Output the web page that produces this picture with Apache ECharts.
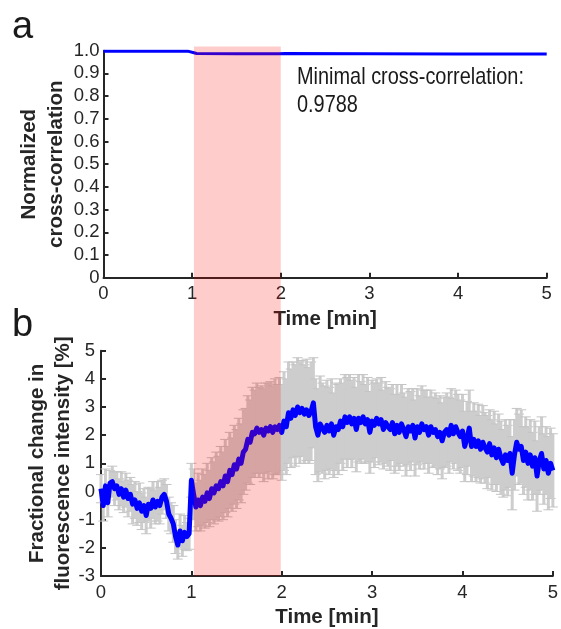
<!DOCTYPE html>
<html>
<head>
<meta charset="utf-8">
<script src="https://cdn.jsdelivr.net/npm/echarts@6/dist/echarts.min.js"></script>
<style>
html,body{margin:0;padding:0;background:#fff;}
#chart{width:561px;height:629px;}
</style>
</head>
<body>
<div id="chart"></div>
<script>
// ---------- Panel a: normalized cross-correlation ----------
const corrTime  = [0, 0.5, 0.95, 1.02, 1.05, 1.5, 1.98, 2.05, 3, 4, 5];
const corrValue = [0.998, 0.998, 0.998, 0.991, 0.988, 0.987, 0.987, 0.988, 0.987, 0.986, 0.985];
const minimalText = 'Minimal cross-correlation:\n0.9788';
const yTitleA = 'Normalized\ncross-correlation';

// ---------- Panel b: fractional change in fluorescence intensity (%) ----------
// sample times: one sample every 0.025 min from 0 to 5 min
const sampleStep = 0.025;
const fluoMean = [
  0.1,-0.5,0.2,-0.4,0.3,0.35,0.1,0.2,-0.1,0.1,
  -0.2,0.05,-0.25,-0.1,-0.45,-0.3,-0.6,-0.4,-0.7,-0.5,
  -0.85,-0.45,-0.6,-0.3,-0.55,-0.35,-0.5,-0.2,-0.1,-0.35,
  -0.8,-0.95,-1.15,-1.6,-1.9,-1.4,-1.75,-1.45,-1.6,-1.5,
  0.4,-0.1,-0.55,-0.3,-0.5,-0.2,-0.35,-0.05,-0.25,0.1,
  -0.05,0.2,0.1,0.35,0.2,0.55,0.35,0.75,0.6,0.95,
  0.8,1.15,1.0,1.4,1.5,1.85,1.75,2.1,2.05,2.25,
  2.1,2.2,2.0,2.25,2.15,2.3,2.1,2.3,2.2,2.35,
  2.1,2.5,2.3,2.8,2.6,2.9,2.7,3.0,2.8,2.95,
  2.75,2.9,2.7,2.85,3.15,2.3,2.0,2.4,2.25,2.1,
  2.35,2.15,2.4,2.0,2.3,2.2,2.5,2.3,2.65,2.45,
  2.65,2.4,2.6,2.2,2.6,2.45,2.65,2.4,2.55,2.1,
  2.5,2.35,2.6,2.4,2.55,2.2,2.45,2.3,2.2,2.45,
  2.05,2.35,2.1,2.4,2.2,1.95,2.3,2.15,2.35,1.9,
  2.3,2.1,2.4,2.2,2.3,2.0,2.3,2.1,2.2,1.95,
  2.1,1.8,2.1,2.2,2.0,2.35,2.05,2.3,2.1,1.95,
  2.15,1.6,1.9,2.25,1.6,1.85,1.6,1.8,1.5,1.75,
  1.55,1.4,1.7,1.3,1.55,1.2,1.5,1.2,1.0,1.3,
  1.1,1.35,0.65,1.3,1.75,1.5,1.6,1.1,1.4,1.0,
  1.3,0.9,1.2,0.55,1.1,1.35,0.8,1.1,0.65,1.0,
  0.75
];
const fluoErr = [
  0.5,0.55,0.6,0.5,0.45,0.55,0.6,0.5,0.55,0.6,
  0.55,0.6,0.65,0.6,0.7,0.65,0.6,0.7,0.65,0.6,
  0.65,0.6,0.7,0.65,0.6,0.7,0.65,0.6,0.55,0.6,
  0.6,0.55,0.65,0.6,0.5,0.6,0.55,0.6,0.5,0.55,
  0.6,0.9,0.85,0.95,0.9,1.0,0.95,1.05,1.0,1.1,
  1.1,1.2,1.15,1.25,1.2,1.3,1.25,1.35,1.3,1.4,
  1.4,1.45,1.4,1.5,1.45,1.55,1.5,1.6,1.55,1.6,
  1.6,1.55,1.65,1.6,1.7,1.6,1.65,1.7,1.6,1.7,
  1.7,1.75,1.7,1.8,1.75,1.7,1.8,1.75,1.8,1.7,
  1.75,1.8,1.7,1.75,1.6,1.7,1.65,1.7,1.6,1.65,
  1.6,1.55,1.6,1.5,1.55,1.6,1.5,1.55,1.5,1.6,
  1.5,1.55,1.45,1.5,1.55,1.45,1.5,1.4,1.5,1.45,
  1.45,1.5,1.4,1.45,1.5,1.4,1.45,1.4,1.45,1.35,
  1.4,1.45,1.35,1.4,1.3,1.4,1.35,1.4,1.3,1.35,
  1.35,1.3,1.35,1.4,1.3,1.35,1.3,1.25,1.3,1.35,
  1.3,1.35,1.25,1.3,1.35,1.3,1.25,1.3,1.35,1.3,
  1.3,1.25,1.3,1.35,1.25,1.3,1.25,1.3,1.2,1.3,
  1.25,1.3,1.2,1.25,1.3,1.2,1.25,1.3,1.2,1.25,
  1.25,1.2,1.3,1.25,1.2,1.25,1.3,1.2,1.25,1.3,
  1.25,1.2,1.3,1.25,1.2,1.3,1.25,1.2,1.3,1.25,
  1.3
];
const yTitleB = 'Fractional change in\nfluorescence intensity [%]';

// stimulation window (min) and top of shading (in panel a units)
const stimStart = 1.02, stimEnd = 2.0, stimTopA = 1.018;

// ---------- build ----------
const fluoTime = fluoMean.map((_, i) => +(i * sampleStep).toFixed(3));
const lineData = fluoMean.map((v, i) => [fluoTime[i], v]);
const errData  = fluoMean.map((v, i) => [fluoTime[i], v - fluoErr[i], v + fluoErr[i]]);
const corrData = corrTime.map((t, i) => [t, corrValue[i]]);

const INK = '#262626';
const FONT = '"Liberation Sans", Arial, Helvetica, sans-serif';
const TICK_FS = 18.5;

function xAxisCfg(gi) {
  return {
    type: 'value', gridIndex: gi, min: 0, max: 5, interval: 1,
    name: 'Time [min]', nameLocation: 'middle', nameGap: 31,
    nameTextStyle: { fontFamily: FONT, fontSize: 20.5, fontWeight: 'bold', color: INK },
    axisLine: { show: true, onZero: false, lineStyle: { color: INK, width: 2 } },
    axisTick: { show: true, inside: true, length: 5, lineStyle: { color: INK, width: 2 } },
    axisLabel: { fontFamily: FONT, fontSize: TICK_FS, color: INK, margin: 7 },
    splitLine: { show: false }
  };
}

const chart = echarts.init(document.getElementById('chart'), null, { renderer: 'canvas' });

chart.setOption({
  animation: false,
  backgroundColor: '#ffffff',
  grid: [
    { left: 103.5, top: 50.7, width: 443.2, height: 227 },
    { left: 101, top: 350.7, width: 452.3, height: 227 }
  ],
  xAxis: [xAxisCfg(0), xAxisCfg(1)],
  yAxis: [
    {
      type: 'value', gridIndex: 0, min: 0, max: 1, interval: 0.1,
      axisLine: { show: true, lineStyle: { color: INK, width: 2 } },
      axisTick: { show: true, inside: true, length: 5, lineStyle: { color: INK, width: 2 } },
      axisLabel: { fontFamily: FONT, fontSize: TICK_FS, color: INK, margin: 4,
        formatter: v => (Math.abs(v) < 1e-9 ? '0' : v.toFixed(1)) },
      splitLine: { show: false }
    },
    {
      type: 'value', gridIndex: 1, min: -3, max: 5, interval: 1,
      axisLine: { show: true, onZero: false, lineStyle: { color: INK, width: 2 } },
      axisTick: { show: true, inside: true, length: 5, lineStyle: { color: INK, width: 2 } },
      axisLabel: { fontFamily: FONT, fontSize: TICK_FS, color: INK, margin: 6 },
      splitLine: { show: false }
    }
  ],
  series: [
    {
      type: 'line', xAxisIndex: 0, yAxisIndex: 0, data: corrData,
      showSymbol: false, lineStyle: { color: '#0000ff', width: 3 }, z: 5
    },
    {
      type: 'custom', xAxisIndex: 1, yAxisIndex: 1, data: errData, z: 3,
      renderItem: function (params, api) {
        const x = api.value(0);
        const top = api.coord([x, api.value(2)]);
        const bot = api.coord([x, api.value(1)]);
        const w = 5;
        const cap = { stroke: '#c4c4c4', lineWidth: 1 };
        return {
          type: 'group',
          children: [
            { type: 'line', shape: { x1: top[0], y1: top[1], x2: bot[0], y2: bot[1] },
              style: { stroke: '#cdcdcd', lineWidth: 3 } },
            { type: 'line', shape: { x1: top[0] - w, y1: top[1], x2: top[0] + w, y2: top[1] }, style: cap },
            { type: 'line', shape: { x1: bot[0] - w, y1: bot[1], x2: bot[0] + w, y2: bot[1] }, style: cap }
          ]
        };
      }
    },
    {
      type: 'line', xAxisIndex: 1, yAxisIndex: 1, data: lineData,
      showSymbol: false, lineStyle: { color: '#0000ff', width: 5, join: 'round' }, z: 5
    }
  ]
});

// shading over the stimulation window, spanning both panels
const pTop = chart.convertToPixel({ gridIndex: 0 }, [stimStart, stimTopA]);
const pEnd = chart.convertToPixel({ gridIndex: 0 }, [stimEnd, stimTopA]);
const pBot = chart.convertToPixel({ gridIndex: 1 }, [stimStart, -3]);
// vertical centres of the two plot areas for the rotated axis titles
const midA = chart.convertToPixel({ gridIndex: 0 }, [0, 0.5])[1];
const midB = chart.convertToPixel({ gridIndex: 1 }, [0, 1])[1];

chart.setOption({
  graphic: [
    {
      type: 'rect', z: 100, silent: true,
      shape: { x: pTop[0], y: pTop[1], width: pEnd[0] - pTop[0], height: pBot[1] - pTop[1] },
      style: { fill: 'rgba(255,0,0,0.2)' }
    },
    {
      type: 'text', x: 43, y: midA, rotation: Math.PI / 2, z: 50,
      style: { text: yTitleA, font: 'bold 20.5px ' + FONT, fill: INK, lineHeight: 27,
        align: 'center', verticalAlign: 'middle' }
    },
    {
      type: 'text', x: 50, y: midB, rotation: Math.PI / 2, z: 50,
      style: { text: yTitleB, font: 'bold 20.5px ' + FONT, fill: INK, lineHeight: 26,
        align: 'center', verticalAlign: 'middle' }
    },
    {
      type: 'text', x: 297, y: 63, scaleX: 0.83, z: 50,
      style: { text: minimalText, font: '24px ' + FONT, fill: '#1a1a1a', lineHeight: 28.5 }
    },
    {
      type: 'text', x: 12, y: 9, z: 50,
      style: { text: 'a', font: '38px ' + FONT, fill: '#1a1a1a' }
    },
    {
      type: 'text', x: 12, y: 307, z: 50,
      style: { text: 'b', font: '38px ' + FONT, fill: '#1a1a1a' }
    }
  ]
});
</script>
</body>
</html>
